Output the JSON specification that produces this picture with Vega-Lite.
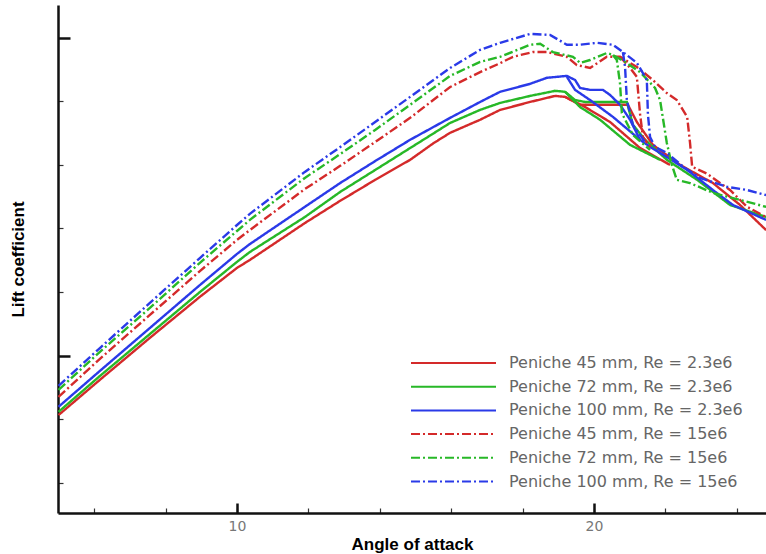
{
  "$schema": "https://vega.github.io/schema/vega-lite/v6.json",
  "width": 708,
  "height": 508,
  "autosize": {"type": "none"},
  "padding": {"left": 58, "top": 5, "right": 0, "bottom": 41},
  "background": "white",
  "config": {"view": {"stroke": null}, "font": "Liberation Sans"},
  "datasets": {
    "curves": [
      {"series":"Peniche 45 mm, Re = 2.3e6","run":"a","aoa":5.0,"cl":0.813},
      {"series":"Peniche 45 mm, Re = 2.3e6","run":"a","aoa":6.16,"cl":0.924},
      {"series":"Peniche 45 mm, Re = 2.3e6","run":"a","aoa":7.56,"cl":1.056},
      {"series":"Peniche 45 mm, Re = 2.3e6","run":"a","aoa":8.96,"cl":1.185},
      {"series":"Peniche 45 mm, Re = 2.3e6","run":"a","aoa":10,"cl":1.276},
      {"series":"Peniche 45 mm, Re = 2.3e6","run":"a","aoa":10.36,"cl":1.301},
      {"series":"Peniche 45 mm, Re = 2.3e6","run":"a","aoa":11.9,"cl":1.417},
      {"series":"Peniche 45 mm, Re = 2.3e6","run":"a","aoa":12.89,"cl":1.487},
      {"series":"Peniche 45 mm, Re = 2.3e6","run":"a","aoa":13.87,"cl":1.553},
      {"series":"Peniche 45 mm, Re = 2.3e6","run":"a","aoa":14.85,"cl":1.616},
      {"series":"Peniche 45 mm, Re = 2.3e6","run":"a","aoa":15.5,"cl":1.668},
      {"series":"Peniche 45 mm, Re = 2.3e6","run":"a","aoa":15.97,"cl":1.701},
      {"series":"Peniche 45 mm, Re = 2.3e6","run":"a","aoa":16.81,"cl":1.742},
      {"series":"Peniche 45 mm, Re = 2.3e6","run":"a","aoa":17.37,"cl":1.773},
      {"series":"Peniche 45 mm, Re = 2.3e6","run":"a","aoa":18.21,"cl":1.798},
      {"series":"Peniche 45 mm, Re = 2.3e6","run":"a","aoa":18.91,"cl":1.817},
      {"series":"Peniche 45 mm, Re = 2.3e6","run":"a","aoa":19.19,"cl":1.814},
      {"series":"Peniche 45 mm, Re = 2.3e6","run":"a","aoa":19.61,"cl":1.789},
      {"series":"Peniche 45 mm, Re = 2.3e6","run":"a","aoa":20.17,"cl":1.789},
      {"series":"Peniche 45 mm, Re = 2.3e6","run":"a","aoa":20.95,"cl":1.789},
      {"series":"Peniche 45 mm, Re = 2.3e6","run":"a","aoa":21.2,"cl":1.735},
      {"series":"Peniche 45 mm, Re = 2.3e6","run":"a","aoa":21.65,"cl":1.663},
      {"series":"Peniche 45 mm, Re = 2.3e6","run":"a","aoa":22.41,"cl":1.6},
      {"series":"Peniche 45 mm, Re = 2.3e6","run":"a","aoa":23.33,"cl":1.543},
      {"series":"Peniche 45 mm, Re = 2.3e6","run":"a","aoa":24.09,"cl":1.474},
      {"series":"Peniche 45 mm, Re = 2.3e6","run":"a","aoa":24.82,"cl":1.395},
      {"series":"Peniche 45 mm, Re = 2.3e6","run":"b","aoa":19.19,"cl":1.814},
      {"series":"Peniche 45 mm, Re = 2.3e6","run":"b","aoa":19.75,"cl":1.782},
      {"series":"Peniche 45 mm, Re = 2.3e6","run":"b","aoa":20.45,"cl":1.735},
      {"series":"Peniche 45 mm, Re = 2.3e6","run":"b","aoa":21.29,"cl":1.653},
      {"series":"Peniche 45 mm, Re = 2.3e6","run":"b","aoa":22.13,"cl":1.6},

      {"series":"Peniche 72 mm, Re = 2.3e6","run":"a","aoa":5.0,"cl":0.823},
      {"series":"Peniche 72 mm, Re = 2.3e6","run":"a","aoa":6.16,"cl":0.936},
      {"series":"Peniche 72 mm, Re = 2.3e6","run":"a","aoa":7.56,"cl":1.068},
      {"series":"Peniche 72 mm, Re = 2.3e6","run":"a","aoa":8.96,"cl":1.2},
      {"series":"Peniche 72 mm, Re = 2.3e6","run":"a","aoa":10,"cl":1.295},
      {"series":"Peniche 72 mm, Re = 2.3e6","run":"a","aoa":10.36,"cl":1.326},
      {"series":"Peniche 72 mm, Re = 2.3e6","run":"a","aoa":11.9,"cl":1.436},
      {"series":"Peniche 72 mm, Re = 2.3e6","run":"a","aoa":12.89,"cl":1.515},
      {"series":"Peniche 72 mm, Re = 2.3e6","run":"a","aoa":13.87,"cl":1.584},
      {"series":"Peniche 72 mm, Re = 2.3e6","run":"a","aoa":14.85,"cl":1.653},
      {"series":"Peniche 72 mm, Re = 2.3e6","run":"a","aoa":15.97,"cl":1.732},
      {"series":"Peniche 72 mm, Re = 2.3e6","run":"a","aoa":16.81,"cl":1.773},
      {"series":"Peniche 72 mm, Re = 2.3e6","run":"a","aoa":17.37,"cl":1.795},
      {"series":"Peniche 72 mm, Re = 2.3e6","run":"a","aoa":18.21,"cl":1.817},
      {"series":"Peniche 72 mm, Re = 2.3e6","run":"a","aoa":18.91,"cl":1.833},
      {"series":"Peniche 72 mm, Re = 2.3e6","run":"a","aoa":19.19,"cl":1.83},
      {"series":"Peniche 72 mm, Re = 2.3e6","run":"a","aoa":19.47,"cl":1.804},
      {"series":"Peniche 72 mm, Re = 2.3e6","run":"a","aoa":19.75,"cl":1.798},
      {"series":"Peniche 72 mm, Re = 2.3e6","run":"a","aoa":20.92,"cl":1.798},
      {"series":"Peniche 72 mm, Re = 2.3e6","run":"a","aoa":21.09,"cl":1.726},
      {"series":"Peniche 72 mm, Re = 2.3e6","run":"a","aoa":21.43,"cl":1.679},
      {"series":"Peniche 72 mm, Re = 2.3e6","run":"a","aoa":22.04,"cl":1.616},
      {"series":"Peniche 72 mm, Re = 2.3e6","run":"a","aoa":22.89,"cl":1.553},
      {"series":"Peniche 72 mm, Re = 2.3e6","run":"a","aoa":23.81,"cl":1.474},
      {"series":"Peniche 72 mm, Re = 2.3e6","run":"a","aoa":24.82,"cl":1.436},
      {"series":"Peniche 72 mm, Re = 2.3e6","run":"b","aoa":19.19,"cl":1.83},
      {"series":"Peniche 72 mm, Re = 2.3e6","run":"b","aoa":19.61,"cl":1.782},
      {"series":"Peniche 72 mm, Re = 2.3e6","run":"b","aoa":20.17,"cl":1.742},
      {"series":"Peniche 72 mm, Re = 2.3e6","run":"b","aoa":21.01,"cl":1.663},
      {"series":"Peniche 72 mm, Re = 2.3e6","run":"b","aoa":21.85,"cl":1.616},

      {"series":"Peniche 100 mm, Re = 2.3e6","run":"a","aoa":5.0,"cl":0.839},
      {"series":"Peniche 100 mm, Re = 2.3e6","run":"a","aoa":6.16,"cl":0.952},
      {"series":"Peniche 100 mm, Re = 2.3e6","run":"a","aoa":7.56,"cl":1.087},
      {"series":"Peniche 100 mm, Re = 2.3e6","run":"a","aoa":8.96,"cl":1.222},
      {"series":"Peniche 100 mm, Re = 2.3e6","run":"a","aoa":10,"cl":1.32},
      {"series":"Peniche 100 mm, Re = 2.3e6","run":"a","aoa":10.36,"cl":1.351},
      {"series":"Peniche 100 mm, Re = 2.3e6","run":"a","aoa":11.9,"cl":1.468},
      {"series":"Peniche 100 mm, Re = 2.3e6","run":"a","aoa":12.89,"cl":1.543},
      {"series":"Peniche 100 mm, Re = 2.3e6","run":"a","aoa":13.87,"cl":1.612},
      {"series":"Peniche 100 mm, Re = 2.3e6","run":"a","aoa":14.85,"cl":1.679},
      {"series":"Peniche 100 mm, Re = 2.3e6","run":"a","aoa":15.97,"cl":1.748},
      {"series":"Peniche 100 mm, Re = 2.3e6","run":"a","aoa":16.81,"cl":1.798},
      {"series":"Peniche 100 mm, Re = 2.3e6","run":"a","aoa":17.37,"cl":1.83},
      {"series":"Peniche 100 mm, Re = 2.3e6","run":"a","aoa":18.21,"cl":1.855},
      {"series":"Peniche 100 mm, Re = 2.3e6","run":"a","aoa":18.68,"cl":1.874},
      {"series":"Peniche 100 mm, Re = 2.3e6","run":"a","aoa":19.24,"cl":1.88},
      {"series":"Peniche 100 mm, Re = 2.3e6","run":"a","aoa":19.47,"cl":1.867},
      {"series":"Peniche 100 mm, Re = 2.3e6","run":"a","aoa":19.61,"cl":1.842},
      {"series":"Peniche 100 mm, Re = 2.3e6","run":"a","aoa":19.89,"cl":1.836},
      {"series":"Peniche 100 mm, Re = 2.3e6","run":"a","aoa":20.25,"cl":1.836},
      {"series":"Peniche 100 mm, Re = 2.3e6","run":"a","aoa":20.45,"cl":1.82},
      {"series":"Peniche 100 mm, Re = 2.3e6","run":"a","aoa":20.73,"cl":1.789},
      {"series":"Peniche 100 mm, Re = 2.3e6","run":"a","aoa":21.01,"cl":1.742},
      {"series":"Peniche 100 mm, Re = 2.3e6","run":"a","aoa":21.29,"cl":1.679},
      {"series":"Peniche 100 mm, Re = 2.3e6","run":"a","aoa":21.62,"cl":1.653},
      {"series":"Peniche 100 mm, Re = 2.3e6","run":"a","aoa":22.04,"cl":1.625},
      {"series":"Peniche 100 mm, Re = 2.3e6","run":"a","aoa":22.61,"cl":1.584},
      {"series":"Peniche 100 mm, Re = 2.3e6","run":"a","aoa":22.97,"cl":1.553},
      {"series":"Peniche 100 mm, Re = 2.3e6","run":"a","aoa":23.33,"cl":1.521},
      {"series":"Peniche 100 mm, Re = 2.3e6","run":"a","aoa":23.89,"cl":1.474},
      {"series":"Peniche 100 mm, Re = 2.3e6","run":"a","aoa":24.82,"cl":1.427},
      {"series":"Peniche 100 mm, Re = 2.3e6","run":"b","aoa":19.24,"cl":1.877},
      {"series":"Peniche 100 mm, Re = 2.3e6","run":"b","aoa":19.47,"cl":1.836},
      {"series":"Peniche 100 mm, Re = 2.3e6","run":"b","aoa":19.89,"cl":1.804},
      {"series":"Peniche 100 mm, Re = 2.3e6","run":"b","aoa":20.53,"cl":1.751},
      {"series":"Peniche 100 mm, Re = 2.3e6","run":"b","aoa":21.29,"cl":1.679},

      {"series":"Peniche 45 mm, Re = 15e6","run":"a","aoa":5.0,"cl":0.87},
      {"series":"Peniche 45 mm, Re = 15e6","run":"a","aoa":6.16,"cl":0.99},
      {"series":"Peniche 45 mm, Re = 15e6","run":"a","aoa":7.56,"cl":1.128},
      {"series":"Peniche 45 mm, Re = 15e6","run":"a","aoa":8.96,"cl":1.266},
      {"series":"Peniche 45 mm, Re = 15e6","run":"a","aoa":10,"cl":1.364},
      {"series":"Peniche 45 mm, Re = 15e6","run":"a","aoa":10.36,"cl":1.395},
      {"series":"Peniche 45 mm, Re = 15e6","run":"a","aoa":11.9,"cl":1.524},
      {"series":"Peniche 45 mm, Re = 15e6","run":"a","aoa":12.89,"cl":1.597},
      {"series":"Peniche 45 mm, Re = 15e6","run":"a","aoa":13.87,"cl":1.672},
      {"series":"Peniche 45 mm, Re = 15e6","run":"a","aoa":14.85,"cl":1.748},
      {"series":"Peniche 45 mm, Re = 15e6","run":"a","aoa":15.97,"cl":1.845},
      {"series":"Peniche 45 mm, Re = 15e6","run":"a","aoa":16.81,"cl":1.892},
      {"series":"Peniche 45 mm, Re = 15e6","run":"a","aoa":17.37,"cl":1.92},
      {"series":"Peniche 45 mm, Re = 15e6","run":"a","aoa":17.73,"cl":1.94},
      {"series":"Peniche 45 mm, Re = 15e6","run":"a","aoa":18.29,"cl":1.955},
      {"series":"Peniche 45 mm, Re = 15e6","run":"a","aoa":18.68,"cl":1.955},
      {"series":"Peniche 45 mm, Re = 15e6","run":"a","aoa":19.24,"cl":1.94},
      {"series":"Peniche 45 mm, Re = 15e6","run":"a","aoa":19.52,"cl":1.914},
      {"series":"Peniche 45 mm, Re = 15e6","run":"a","aoa":19.89,"cl":1.905},
      {"series":"Peniche 45 mm, Re = 15e6","run":"a","aoa":20.36,"cl":1.94},
      {"series":"Peniche 45 mm, Re = 15e6","run":"a","aoa":20.73,"cl":1.94},
      {"series":"Peniche 45 mm, Re = 15e6","run":"a","aoa":21.2,"cl":1.908},
      {"series":"Peniche 45 mm, Re = 15e6","run":"a","aoa":21.65,"cl":1.867},
      {"series":"Peniche 45 mm, Re = 15e6","run":"a","aoa":22.04,"cl":1.826},
      {"series":"Peniche 45 mm, Re = 15e6","run":"a","aoa":22.32,"cl":1.804},
      {"series":"Peniche 45 mm, Re = 15e6","run":"a","aoa":22.61,"cl":1.751},
      {"series":"Peniche 45 mm, Re = 15e6","run":"a","aoa":22.69,"cl":1.669},
      {"series":"Peniche 45 mm, Re = 15e6","run":"a","aoa":22.75,"cl":1.594},
      {"series":"Peniche 45 mm, Re = 15e6","run":"a","aoa":23.17,"cl":1.572},
      {"series":"Peniche 45 mm, Re = 15e6","run":"a","aoa":23.81,"cl":1.521},
      {"series":"Peniche 45 mm, Re = 15e6","run":"a","aoa":24.29,"cl":1.468},
      {"series":"Peniche 45 mm, Re = 15e6","run":"a","aoa":24.82,"cl":1.436},
      {"series":"Peniche 45 mm, Re = 15e6","run":"b","aoa":20.73,"cl":1.94},
      {"series":"Peniche 45 mm, Re = 15e6","run":"b","aoa":21.01,"cl":1.905},
      {"series":"Peniche 45 mm, Re = 15e6","run":"b","aoa":21.2,"cl":1.877},
      {"series":"Peniche 45 mm, Re = 15e6","run":"b","aoa":21.29,"cl":1.76},
      {"series":"Peniche 45 mm, Re = 15e6","run":"b","aoa":21.37,"cl":1.688},
      {"series":"Peniche 45 mm, Re = 15e6","run":"b","aoa":21.62,"cl":1.65},

      {"series":"Peniche 72 mm, Re = 15e6","run":"a","aoa":5.0,"cl":0.892},
      {"series":"Peniche 72 mm, Re = 15e6","run":"a","aoa":6.16,"cl":1.012},
      {"series":"Peniche 72 mm, Re = 15e6","run":"a","aoa":7.56,"cl":1.15},
      {"series":"Peniche 72 mm, Re = 15e6","run":"a","aoa":8.96,"cl":1.292},
      {"series":"Peniche 72 mm, Re = 15e6","run":"a","aoa":10,"cl":1.392},
      {"series":"Peniche 72 mm, Re = 15e6","run":"a","aoa":10.36,"cl":1.427},
      {"series":"Peniche 72 mm, Re = 15e6","run":"a","aoa":11.9,"cl":1.559},
      {"series":"Peniche 72 mm, Re = 15e6","run":"a","aoa":12.89,"cl":1.634},
      {"series":"Peniche 72 mm, Re = 15e6","run":"a","aoa":13.87,"cl":1.71},
      {"series":"Peniche 72 mm, Re = 15e6","run":"a","aoa":14.85,"cl":1.789},
      {"series":"Peniche 72 mm, Re = 15e6","run":"a","aoa":15.97,"cl":1.88},
      {"series":"Peniche 72 mm, Re = 15e6","run":"a","aoa":16.81,"cl":1.924},
      {"series":"Peniche 72 mm, Re = 15e6","run":"a","aoa":17.37,"cl":1.94},
      {"series":"Peniche 72 mm, Re = 15e6","run":"a","aoa":18.21,"cl":1.978},
      {"series":"Peniche 72 mm, Re = 15e6","run":"a","aoa":18.49,"cl":1.981},
      {"series":"Peniche 72 mm, Re = 15e6","run":"a","aoa":18.85,"cl":1.955},
      {"series":"Peniche 72 mm, Re = 15e6","run":"a","aoa":19.41,"cl":1.94},
      {"series":"Peniche 72 mm, Re = 15e6","run":"a","aoa":19.61,"cl":1.921},
      {"series":"Peniche 72 mm, Re = 15e6","run":"a","aoa":19.89,"cl":1.93},
      {"series":"Peniche 72 mm, Re = 15e6","run":"a","aoa":20.36,"cl":1.952},
      {"series":"Peniche 72 mm, Re = 15e6","run":"a","aoa":20.53,"cl":1.946},
      {"series":"Peniche 72 mm, Re = 15e6","run":"a","aoa":20.87,"cl":1.924},
      {"series":"Peniche 72 mm, Re = 15e6","run":"a","aoa":21.29,"cl":1.892},
      {"series":"Peniche 72 mm, Re = 15e6","run":"a","aoa":21.71,"cl":1.842},
      {"series":"Peniche 72 mm, Re = 15e6","run":"a","aoa":21.85,"cl":1.804},
      {"series":"Peniche 72 mm, Re = 15e6","run":"a","aoa":21.96,"cl":1.726},
      {"series":"Peniche 72 mm, Re = 15e6","run":"a","aoa":22.04,"cl":1.669},
      {"series":"Peniche 72 mm, Re = 15e6","run":"a","aoa":22.18,"cl":1.6},
      {"series":"Peniche 72 mm, Re = 15e6","run":"a","aoa":22.32,"cl":1.553},
      {"series":"Peniche 72 mm, Re = 15e6","run":"a","aoa":22.69,"cl":1.543},
      {"series":"Peniche 72 mm, Re = 15e6","run":"a","aoa":23.33,"cl":1.512},
      {"series":"Peniche 72 mm, Re = 15e6","run":"a","aoa":24.09,"cl":1.49},
      {"series":"Peniche 72 mm, Re = 15e6","run":"a","aoa":24.82,"cl":1.468},
      {"series":"Peniche 72 mm, Re = 15e6","run":"b","aoa":20.53,"cl":1.946},
      {"series":"Peniche 72 mm, Re = 15e6","run":"b","aoa":20.64,"cl":1.93},
      {"series":"Peniche 72 mm, Re = 15e6","run":"b","aoa":20.73,"cl":1.855},
      {"series":"Peniche 72 mm, Re = 15e6","run":"b","aoa":20.78,"cl":1.763},
      {"series":"Peniche 72 mm, Re = 15e6","run":"b","aoa":21.09,"cl":1.694},
      {"series":"Peniche 72 mm, Re = 15e6","run":"b","aoa":21.57,"cl":1.647},

      {"series":"Peniche 100 mm, Re = 15e6","run":"a","aoa":5.0,"cl":0.905},
      {"series":"Peniche 100 mm, Re = 15e6","run":"a","aoa":6.16,"cl":1.024},
      {"series":"Peniche 100 mm, Re = 15e6","run":"a","aoa":7.56,"cl":1.166},
      {"series":"Peniche 100 mm, Re = 15e6","run":"a","aoa":8.96,"cl":1.307},
      {"series":"Peniche 100 mm, Re = 15e6","run":"a","aoa":10,"cl":1.411},
      {"series":"Peniche 100 mm, Re = 15e6","run":"a","aoa":10.36,"cl":1.446},
      {"series":"Peniche 100 mm, Re = 15e6","run":"a","aoa":11.9,"cl":1.578},
      {"series":"Peniche 100 mm, Re = 15e6","run":"a","aoa":12.89,"cl":1.656},
      {"series":"Peniche 100 mm, Re = 15e6","run":"a","aoa":13.87,"cl":1.735},
      {"series":"Peniche 100 mm, Re = 15e6","run":"a","aoa":14.85,"cl":1.814},
      {"series":"Peniche 100 mm, Re = 15e6","run":"a","aoa":15.97,"cl":1.905},
      {"series":"Peniche 100 mm, Re = 15e6","run":"a","aoa":16.81,"cl":1.962},
      {"series":"Peniche 100 mm, Re = 15e6","run":"a","aoa":17.37,"cl":1.984},
      {"series":"Peniche 100 mm, Re = 15e6","run":"a","aoa":18.21,"cl":2.012},
      {"series":"Peniche 100 mm, Re = 15e6","run":"a","aoa":18.77,"cl":2.009},
      {"series":"Peniche 100 mm, Re = 15e6","run":"a","aoa":19.24,"cl":1.978},
      {"series":"Peniche 100 mm, Re = 15e6","run":"a","aoa":19.61,"cl":1.978},
      {"series":"Peniche 100 mm, Re = 15e6","run":"a","aoa":20.08,"cl":1.984},
      {"series":"Peniche 100 mm, Re = 15e6","run":"a","aoa":20.53,"cl":1.978},
      {"series":"Peniche 100 mm, Re = 15e6","run":"a","aoa":20.81,"cl":1.955},
      {"series":"Peniche 100 mm, Re = 15e6","run":"a","aoa":21.2,"cl":1.921},
      {"series":"Peniche 100 mm, Re = 15e6","run":"a","aoa":21.37,"cl":1.889},
      {"series":"Peniche 100 mm, Re = 15e6","run":"a","aoa":21.48,"cl":1.867},
      {"series":"Peniche 100 mm, Re = 15e6","run":"a","aoa":21.51,"cl":1.76},
      {"series":"Peniche 100 mm, Re = 15e6","run":"a","aoa":21.57,"cl":1.688},
      {"series":"Peniche 100 mm, Re = 15e6","run":"a","aoa":21.71,"cl":1.656},
      {"series":"Peniche 100 mm, Re = 15e6","run":"a","aoa":22.04,"cl":1.638},
      {"series":"Peniche 100 mm, Re = 15e6","run":"a","aoa":22.55,"cl":1.59},
      {"series":"Peniche 100 mm, Re = 15e6","run":"a","aoa":22.97,"cl":1.559},
      {"series":"Peniche 100 mm, Re = 15e6","run":"a","aoa":23.73,"cl":1.531},
      {"series":"Peniche 100 mm, Re = 15e6","run":"a","aoa":24.29,"cl":1.521},
      {"series":"Peniche 100 mm, Re = 15e6","run":"a","aoa":24.82,"cl":1.505},
      {"series":"Peniche 100 mm, Re = 15e6","run":"b","aoa":20.81,"cl":1.955},
      {"series":"Peniche 100 mm, Re = 15e6","run":"b","aoa":20.87,"cl":1.908},
      {"series":"Peniche 100 mm, Re = 15e6","run":"b","aoa":20.92,"cl":1.804},
      {"series":"Peniche 100 mm, Re = 15e6","run":"b","aoa":21.09,"cl":1.726},
      {"series":"Peniche 100 mm, Re = 15e6","run":"b","aoa":21.43,"cl":1.672}
    ]
  },
  "data": {"name": "curves"},
  "layer": [
    {
      "mark": {"type": "line", "strokeWidth": 2.4, "clip": true},
      "encoding": {
        "x": {
          "field": "aoa", "type": "quantitative",
          "scale": {"domain": [4.986, 24.818], "nice": false, "zero": false},
          "axis": {
            "orient": "bottom",
            "values": [6, 8, 10, 12, 14, 16, 18, 20, 22, 24],
            "tickSize": -5, "tickWidth": 1.2, "tickColor": "#333",
            "domainColor": "#111", "domainWidth": 2.5,
            "grid": false,
            "labelExpr": "datum.value == 10 || datum.value == 20 ? datum.label : ''",
            "labelFont": "DejaVu Sans", "labelFontSize": 14, "labelColor": "#777", "labelPadding": 11,
            "title": "Angle of attack", "titleFontSize": 17, "titleFontWeight": "bold",
            "titleColor": "#000", "titlePadding": 3
          }
        },
        "y": {
          "field": "cl", "type": "quantitative",
          "scale": {"domain": [0.505, 2.103], "nice": false, "zero": false},
          "axis": {
            "orient": "left",
            "values": [0.6, 0.8, 1.2, 1.4, 1.6, 1.8],
            "tickSize": -5, "tickWidth": 1.2, "tickColor": "#333",
            "domainColor": "#111", "domainWidth": 2.5,
            "grid": false, "labels": false,
            "title": "Lift coefficient", "titleFontSize": 17, "titleFontWeight": "bold",
            "titleColor": "#000", "titlePadding": 30
          }
        },
        "color": {
          "field": "series", "type": "nominal",
          "scale": {
            "domain": ["Peniche 45 mm, Re = 2.3e6", "Peniche 72 mm, Re = 2.3e6", "Peniche 100 mm, Re = 2.3e6", "Peniche 45 mm, Re = 15e6", "Peniche 72 mm, Re = 15e6", "Peniche 100 mm, Re = 15e6"],
            "range": ["#d42a2a", "#27b827", "#2a3ae8", "#d42a2a", "#27b827", "#2a3ae8"]
          },
          "legend": {
            "orient": "none", "legendX": 352, "legendY": 349, "title": null,
            "symbolType": "stroke", "symbolSize": 7225, "symbolStrokeWidth": 2,
            "clipHeight": 18, "rowPadding": 5.7, "labelOffset": 12, "labelLimit": 400,
            "labelFont": "DejaVu Sans", "labelFontSize": 16, "labelColor": "#666", "padding": 0
          }
        },
        "strokeDash": {
          "field": "series", "type": "nominal",
          "scale": {
            "domain": ["Peniche 45 mm, Re = 2.3e6", "Peniche 72 mm, Re = 2.3e6", "Peniche 100 mm, Re = 2.3e6", "Peniche 45 mm, Re = 15e6", "Peniche 72 mm, Re = 15e6", "Peniche 100 mm, Re = 15e6"],
            "range": [[1, 0], [1, 0], [1, 0], [9, 3, 2, 3], [9, 3, 2, 3], [9, 3, 2, 3]]
          },
          "legend": {
            "orient": "none", "legendX": 352, "legendY": 349, "title": null,
            "symbolType": "stroke", "symbolSize": 7225, "symbolStrokeWidth": 2,
            "clipHeight": 18, "rowPadding": 5.7, "labelOffset": 12, "labelLimit": 400,
            "labelFont": "DejaVu Sans", "labelFontSize": 16, "labelColor": "#666", "padding": 0
          }
        },
        "detail": {"field": "run", "type": "nominal"}
      }
    },
    {
      "mark": {"type": "line", "opacity": 0},
      "encoding": {
        "x": {
          "field": "aoa", "type": "quantitative",
          "scale": {"domain": [4.986, 24.818], "nice": false, "zero": false},
          "axis": {
            "orient": "bottom", "values": [10, 20],
            "tickSize": -10, "tickWidth": 2.5, "tickColor": "#111",
            "domain": false, "labels": false, "grid": false, "title": null
          }
        },
        "y": {
          "field": "cl", "type": "quantitative",
          "scale": {"domain": [0.505, 2.103], "nice": false, "zero": false},
          "axis": {
            "orient": "left", "values": [1, 2],
            "tickSize": -12, "tickWidth": 2.5, "tickColor": "#111",
            "domain": false, "labels": false, "grid": false, "title": null
          }
        },
        "detail": {"field": "series", "type": "nominal"}
      }
    }
  ],
  "resolve": {"axis": {"x": "independent", "y": "independent"}}
}
